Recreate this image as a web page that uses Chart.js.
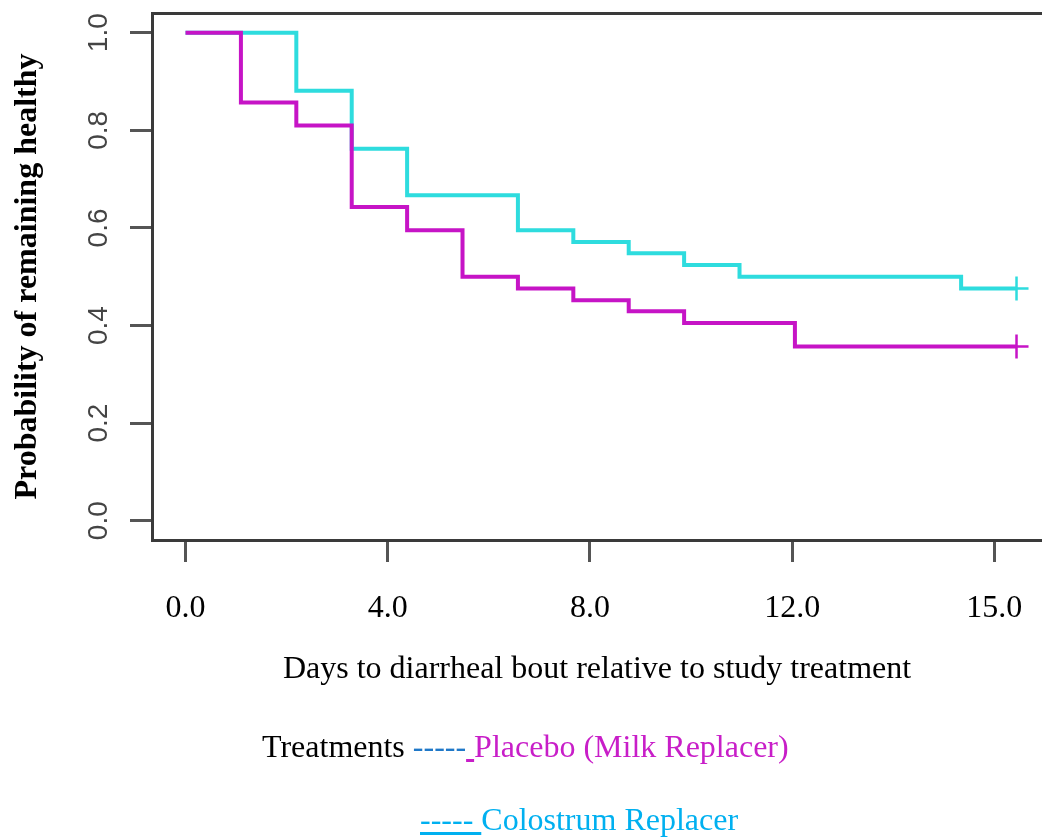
<!DOCTYPE html>
<html>
<head>
<meta charset="utf-8">
<script src="https://cdn.jsdelivr.net/npm/chart.js@4.4.1/dist/chart.umd.min.js"></script>
<style>
  body { margin: 0; background: #fff; }
  #wrap { position: relative; width: 1042px; height: 838px; }
  #c { position: absolute; left: 0; top: 0; }
  .leg { position: absolute; font-family: "Liberation Serif", "Times New Roman", serif; font-size: 32px; white-space: pre; }
</style>
</head>
<body>
<div id="wrap">
  <canvas id="c" width="1042" height="838"></canvas>
  <div class="leg" style="left:262px; top:728px;"><span style="color:#000">Treatments </span><span style="color:#1f78c8">-----</span><span style="color:#c81ec8;text-decoration:underline"> </span><span style="color:#c81ec8">Placebo (Milk Replacer)</span></div>
  <div class="leg" style="left:420px; top:801px;"><span style="color:#00b0f0;text-decoration:underline">----- </span><span style="color:#00b0f0">Colostrum Replacer</span></div>
</div>
<script>
// Kaplan-Meier steps (day, survival after the event)
const placeboDays = [0, 1, 2, 3, 4, 5, 6, 7, 8, 9, 11, 15];
const placeboSurv = [1, 0.857, 0.810, 0.643, 0.595, 0.500, 0.476, 0.452, 0.429, 0.405, 0.357, 0.357];
const colostrumDays = [0, 2, 3, 4, 6, 7, 8, 9, 10, 14, 15];
const colostrumSurv = [1, 0.881, 0.762, 0.667, 0.595, 0.571, 0.548, 0.524, 0.500, 0.476, 0.476];

// the x ticks sit at these positions but carry these labels
const xTickPos = [0, 3.65, 7.3, 10.95, 14.6];
const xTickLabels = ['0.0', '4.0', '8.0', '12.0', '15.0'];
const yTickPos = [0, 0.2, 0.4, 0.6, 0.8, 1.0];

function toPoints(xs, ys) {
  return xs.map((x, i) => ({ x: x, y: ys[i] }));
}

const serif = '"Liberation Serif", "Times New Roman", serif';

// only the last point gets the censoring cross
function lastCross(n) {
  return (ctx) => (ctx.dataIndex === n - 1 ? 12 : 0);
}

// drop the extra room Chart.js keeps for edge labels
function noEdgePadding(scale) {
  scale.paddingTop = 0;
  scale.paddingBottom = 0;
  scale.paddingLeft = 0;
  scale.paddingRight = 0;
}

const data1 = {
  datasets: [
    {
      label: 'Placebo (Milk Replacer)',
      data: toPoints(placeboDays, placeboSurv),
      borderColor: '#c614c6',
      backgroundColor: '#c614c6',
      borderWidth: 4,
      stepped: 'before',
      pointStyle: 'cross',
      pointRadius: lastCross(placeboDays.length),
      pointBorderWidth: 2.5,
      pointBorderColor: '#c614c6',
    },
    {
      label: 'Colostrum Replacer',
      data: toPoints(colostrumDays, colostrumSurv),
      borderColor: '#2edcde',
      backgroundColor: '#2edcde',
      borderWidth: 4,
      stepped: 'before',
      pointStyle: 'cross',
      pointRadius: lastCross(colostrumDays.length),
      pointBorderWidth: 2.5,
      pointBorderColor: '#2edcde',
    },
  ],
};

const config1 = {
  type: 'line',
  data: data1,
  options: {
    responsive: false,
    animation: false,
    layout: { autoPadding: false, padding: { top: 13, right: 0, bottom: 148, left: 0 } },
    plugins: { legend: { display: false }, tooltip: { enabled: false } },
    scales: {
      x: {
        type: 'linear',
        min: -0.605,
        max: 15.46,
        afterBuildTicks: (scale) => { scale.ticks = xTickPos.map((v) => ({ value: v })); },
        afterFit: (scale) => { scale.height = 150; noEdgePadding(scale); },
        ticks: {
          callback: (v, i) => xTickLabels[i],
          autoSkip: false,
          maxRotation: 0,
          padding: 27,
          color: '#000',
          font: { family: serif, size: 32 },
        },
        grid: { display: true, drawOnChartArea: false, drawTicks: true, tickLength: 22, tickColor: '#555', lineWidth: 3 },
        border: { display: true, color: '#3a3a3a', width: 3 },
        title: {
          display: true,
          text: 'Days to diarrheal bout relative to study treatment',
          color: '#000',
          font: { family: serif, size: 32 },
          padding: { top: 0, bottom: 1 },
        },
      },
      x2: {
        type: 'linear',
        position: 'top',
        min: -0.605,
        max: 15.46,
        ticks: { display: false },
        grid: { display: false, drawTicks: false },
        border: { display: true, color: '#3a3a3a', width: 3 },
        afterFit: (scale) => { scale.height = 0; noEdgePadding(scale); },
      },
      y: {
        min: -0.0395,
        max: 1.0404,
        afterBuildTicks: (scale) => { scale.ticks = yTickPos.map((v) => ({ value: v })); },
        afterFit: (scale) => { scale.width = 152; noEdgePadding(scale); },
        ticks: {
          callback: (v) => v.toFixed(1),
          minRotation: 90,
          maxRotation: 90,
          crossAlign: 'center',
          padding: 11,
          color: '#444',
          font: { family: '"Liberation Sans", Arial, sans-serif', size: 28 },
        },
        grid: { display: true, drawOnChartArea: false, drawTicks: true, tickLength: 22, tickColor: '#555', lineWidth: 3 },
        border: { display: true, color: '#3a3a3a', width: 3 },
        title: {
          display: true,
          text: 'Probability of remaining healthy',
          color: '#000',
          font: { family: serif, size: 32, weight: 'bold' },
          padding: { top: 9, bottom: 0 },
        },
      },
    },
  },
};

const myChart = new Chart(document.getElementById('c'), config1);
</script>
</body>
</html>
